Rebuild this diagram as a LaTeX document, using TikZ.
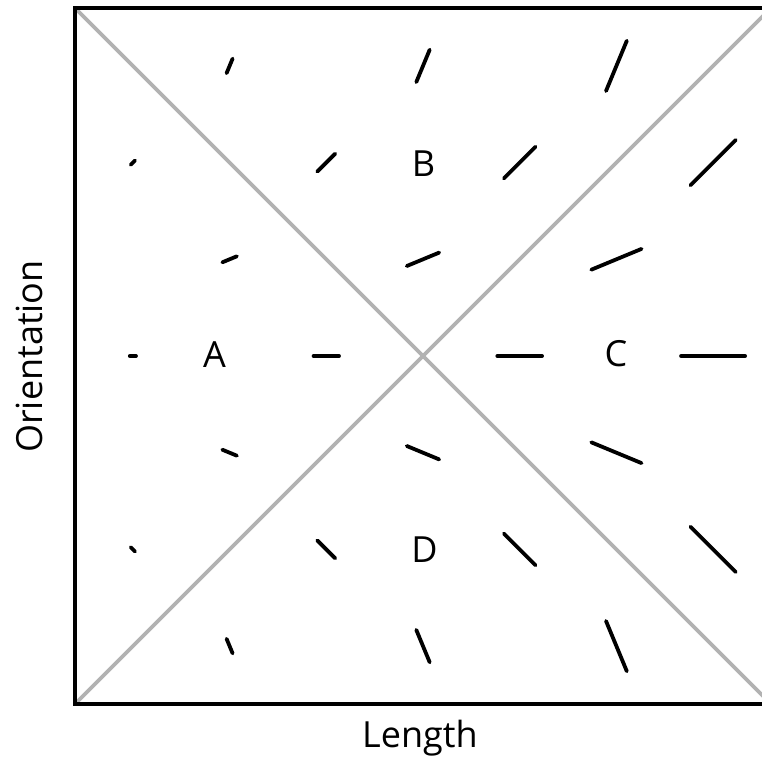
\documentclass[tikz,border=0pt]{standalone}
\usepackage{fontspec}
\setmainfont{Open Sans}
\begin{document}
\begin{tikzpicture}[x=1pt,y=-1pt,
  frame/.style={line width=3.8pt,black},
  diag/.style={line width=3.6pt,gray!60},
  seg/.style={line width=3.8pt,black,line cap=round},
  lbl/.style={font=\fontsize{36}{40}\selectfont,inner sep=0pt}]
\useasboundingbox (0,0) rectangle (762,764);
\begin{scope}
\clip (0,0) rectangle (762,764);
\coordinate (tl) at (75,8);
\coordinate (tr) at (771,8);
\coordinate (bl) at (75,704);
\coordinate (br) at (771,704);
\draw[diag] (tl) -- (br);
\draw[diag] (bl) -- (tr);
\draw[frame] (tl) -- (tr) -- (br) -- (bl) -- cycle;
\end{scope}
\foreach \r in {1,...,7}{
  \foreach \c in {1,...,7}{
    \pgfmathtruncatemacro{\odd}{mod(\r+\c,2)}
    \ifnum\odd=1
      \pgfmathsetmacro{\cx}{423+96.7*(\c-4)}
      \pgfmathsetmacro{\cy}{356+96.7*(\r-4)}
      \pgfmathsetmacro{\ang}{(4-\r)*22.5}
      \pgfmathsetmacro{\hl}{(9.65*\c-3.5)/2}
      \draw[seg] ({\cx-\hl*cos(\ang)},{\cy+\hl*sin(\ang)}) -- ({\cx+\hl*cos(\ang)},{\cy-\hl*sin(\ang)});
    \fi
  }
}
\node[lbl] (A) at (214.5,355) {A};
\node[lbl] (B) at (423.5,164) {B};
\node[lbl] (C) at (616,354) {C};
\node[lbl] (D) at (424.5,550) {D};
\node[lbl,anchor=base] (len) at (420,747) {Length};
\node[lbl,anchor=base,rotate=90] (ori) at (42,356.5) {Orientation};
\end{tikzpicture}
\end{document}
